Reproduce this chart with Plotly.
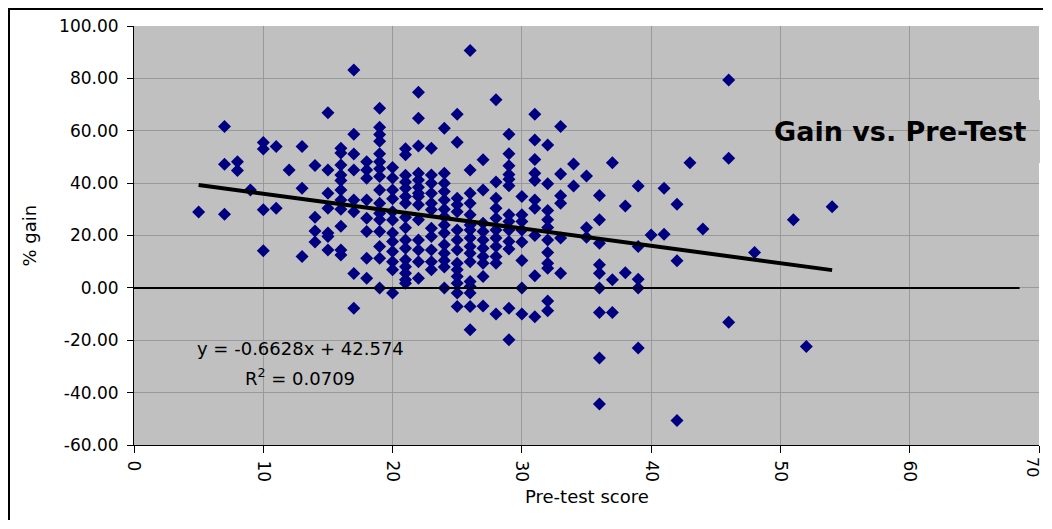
import plotly.graph_objects as go

# Pre-test score (x) and % gain (y)
pre_test = (
    [5]
    + [7] * 3
    + [8] * 2
    + [9]
    + [10] * 4
    + [11] * 2
    + [12]
    + [13] * 3
    + [14] * 4
    + [15] * 7
    + [16] * 11
    + [17] * 8
    + [18] * 8
    + [19] * 16
    + [20] * 12
    + [21] * 16
    + [22] * 14
    + [23] * 11
    + [24] * 14
    + [25] * 14
    + [26] * 16
    + [27] * 10
    + [28] * 11
    + [29] * 13
    + [30] * 8
    + [31] * 10
    + [32] * 11
    + [33] * 6
    + [34] * 2
    + [35] * 3
    + [36] * 9
    + [37] * 3
    + [38] * 2
    + [39] * 5
    + [40]
    + [41] * 2
    + [42] * 3
    + [43]
    + [44]
    + [46] * 3
    + [48]
    + [51]
    + [52]
    + [54]
)

pct_gain = [
    29.0,
    61.6, 47.2, 28.1,
    48.2, 44.8,
    37.4,
    55.5, 53.0, 29.8, 14.2,
    54.0, 30.4,
    45.0,
    54.0, 38.0, 12.0,
    46.7, 27.0, 21.7, 17.5,
    66.9, 45.0, 36.1, 30.4, 21.0, 19.6, 14.5,
    53.3, 51.5, 46.9, 43.1, 41.0, 37.4, 33.6, 30.0, 23.5, 14.5, 12.6,
    83.2, 58.7, 51.1, 45.0, 33.6, 29.1, 5.5, -7.8,
    48.2, 45.0, 41.9, 33.6, 26.6, 21.5, 11.3, 3.7,
    68.6, 61.3, 58.6, 56.0, 51.2, 48.2, 45.5, 42.5, 37.4, 32.3, 28.5, 26.0, 21.5, 15.8, 11.3, 0.0,
    46.0, 42.0, 37.4, 34.0, 29.1, 25.9, 21.0, 17.7, 13.9, 10.0, 6.9, -2.0,
    53.1, 50.8, 43.0, 40.4, 38.0, 34.9, 32.3, 27.0, 23.0, 18.3, 15.1, 10.7, 8.1, 5.6, 3.1, 1.8,
    74.7, 64.8, 54.2, 43.8, 41.2, 38.4, 36.1, 34.9, 31.7, 26.0, 18.3, 14.5, 10.0, 3.7,
    53.3, 43.1, 40.0, 36.1, 32.3, 29.8, 22.8, 19.6, 14.5, 10.0, 6.9,
    61.0, 43.8, 40.0, 36.8, 33.6, 30.0, 27.2, 24.0, 21.0, 16.5, 13.2, 10.5, 8.0, 0.0,
    66.3, 55.6, 34.2, 31.7, 29.1, 22.1, 18.3, 14.5, 9.4, 6.9, 4.3, 1.8, -2.0, -7.1,
    90.6, 45.0, 36.1, 32.3, 27.9, 24.0, 22.1, 19.0, 15.8, 13.2, 10.0, 2.4, 0.5, -2.0, -7.1, -16.0,
    48.9, 37.4, 24.7, 21.5, 18.3, 15.1, 12.0, 9.4, 4.3, -6.9,
    71.8, 40.4, 34.2, 30.4, 26.6, 22.1, 19.0, 15.8, 12.0, 9.4, -10.0,
    58.7, 51.2, 46.6, 43.3, 41.5, 39.0, 27.9, 25.3, 22.1, 17.7, 14.8, -7.8, -19.8,
    34.9, 27.9, 25.3, 22.1, 17.5, 10.5, 0.0, -10.0,
    66.3, 56.5, 49.0, 43.8, 41.0, 33.6, 30.4, 20.0, 4.6, -11.0,
    54.6, 39.8, 29.5, 26.0, 23.1, 18.3, 13.5, 9.4, 7.5, -5.0, -8.7,
    61.6, 43.5, 35.2, 32.3, 19.0, 5.6,
    47.3, 38.9,
    42.7, 23.0, 19.3,
    35.3, 26.0, 17.0, 8.8, 5.6, 0.0, -9.4, -26.8, -44.3,
    47.8, 3.1, -9.4,
    31.3, 5.8,
    38.9, 15.8, 3.3, 0.0, -23.0,
    20.2,
    38.0, 20.5,
    31.9, 10.4, -50.6,
    47.8,
    22.5,
    79.4, 49.5, -13.1,
    13.5,
    26.0,
    -22.4,
    31.0,
]

# Linear trendline shown on the chart
trend_slope = -0.6628
trend_intercept = 42.574
r_squared = 0.0709

# Reference line at zero gain
zero_line_x = [0, 68.5]
zero_line_y = [0, 0]

x_ticks = [0, 10, 20, 30, 40, 50, 60, 70]
y_ticks = [-60, -40, -20, 0, 20, 40, 60, 80, 100]

FONT = "DejaVu Sans"

trend_x = [min(pre_test), max(pre_test)]
trend_y = [trend_slope * v + trend_intercept for v in trend_x]

fig = go.Figure()
fig.add_trace(go.Scatter(
    x=pre_test, y=pct_gain, mode="markers",
    marker=dict(symbol="diamond", size=10, color="#000080", line=dict(width=0)),
    hoverinfo="x+y",
))
fig.add_trace(go.Scatter(
    x=zero_line_x, y=zero_line_y, mode="lines",
    line=dict(color="black", width=2), hoverinfo="skip",
))
fig.add_trace(go.Scatter(
    x=trend_x, y=trend_y, mode="lines",
    line=dict(color="black", width=4), hoverinfo="skip",
))

# page offset of the plot div (browser default body margin, 8px each side)
OFF = 8
# plot area in page pixels
PL, PR, PT, PB = 134, 1039, 26, 445
W, H = 1052 - 2 * OFF, 529 - 2 * OFF
pw, ph = PR - PL, PB - PT


def px(xp):
    return (xp - PL) / pw


def py(yp):
    return (PB - yp) / ph


# the last tick label sits on the page edge: draw it as an annotation kept inside the page
x_ticktext = [str(v) for v in x_ticks[:-1]] + [""]

fig.update_layout(
    width=W, height=H,
    margin=dict(l=PL - OFF, r=W - (PR - OFF), t=PT - OFF, b=H - (PB - OFF), pad=0),
    paper_bgcolor="white",
    plot_bgcolor="#c0c0c0",
    showlegend=False,
    font=dict(family=FONT, size=17, color="black"),
    xaxis=dict(
        range=[0, 70], tickvals=x_ticks, ticktext=x_ticktext,
        showgrid=True, gridcolor="#999999", gridwidth=1,
        showline=True, linecolor="black", linewidth=1,
        ticks="outside", ticklen=7, tickcolor="black", tickwidth=1,
        tickangle=90, zeroline=False, tickfont=dict(size=17),
        ticklabelstandoff=4,
    ),
    yaxis=dict(
        range=[-60, 100], tickvals=y_ticks, ticktext=[f"{v:.2f}" for v in y_ticks],
        showgrid=True, gridcolor="#999999", gridwidth=1,
        showline=True, linecolor="black", linewidth=1,
        ticks="outside", ticklen=6, tickcolor="black", tickwidth=1,
        zeroline=False, tickfont=dict(size=17),
        ticklabelstandoff=5,
    ),
    shapes=[
        # grey boxes behind title and equation (hide gridlines)
        dict(type="rect", xref="paper", yref="paper",
             x0=px(765), x1=px(1040), y0=py(163), y1=py(100),
             fillcolor="#c0c0c0", line=dict(width=0), layer="between"),
        dict(type="rect", xref="paper", yref="paper",
             x0=px(190), x1=px(413), y0=py(407), y1=py(330),
             fillcolor="#c0c0c0", line=dict(width=0), layer="between"),
        # chart outer frame (left and top edges visible in the reference)
        dict(type="line", xref="paper", yref="paper",
             x0=px(9), x1=px(9), y0=py(520), y1=py(8),
             line=dict(color="black", width=2)),
        dict(type="line", xref="paper", yref="paper",
             x0=px(8), x1=px(1043), y0=py(9), y1=py(9),
             line=dict(color="black", width=2)),
    ],
    annotations=[
        dict(text=str(x_ticks[-1]), xref="x", yref="paper",
             x=x_ticks[-1], y=py(456), xanchor="center", yanchor="top",
             xshift=-6, showarrow=False, textangle=90, borderpad=0,
             font=dict(family=FONT, size=16, color="black")),
        dict(text="<b>Gain vs. Pre-Test</b>", xref="paper", yref="paper",
             x=px(900), y=py(131), xanchor="center", yanchor="middle", showarrow=False,
             font=dict(family=FONT, size=27, color="black")),
        dict(text=f"y = {trend_slope}x + {trend_intercept}", xref="paper", yref="paper",
             x=px(300), y=py(348), xanchor="center", yanchor="middle", showarrow=False,
             font=dict(family=FONT, size=18, color="black")),
        dict(text=f"R<sup>2</sup> = {r_squared}", xref="paper", yref="paper",
             x=px(300), y=py(377), xanchor="center", yanchor="middle", showarrow=False,
             font=dict(family=FONT, size=18, color="black")),
        dict(text="% gain", xref="paper", yref="paper",
             x=px(29), y=0.5, xanchor="center", yanchor="middle", showarrow=False,
             textangle=-90, font=dict(family=FONT, size=18, color="black")),
        dict(text="Pre-test score", xref="paper", yref="paper",
             x=0.5, y=py(497), xanchor="center", yanchor="middle", showarrow=False,
             font=dict(family=FONT, size=18, color="black")),
    ],
)

fig.write_html("out.html")
